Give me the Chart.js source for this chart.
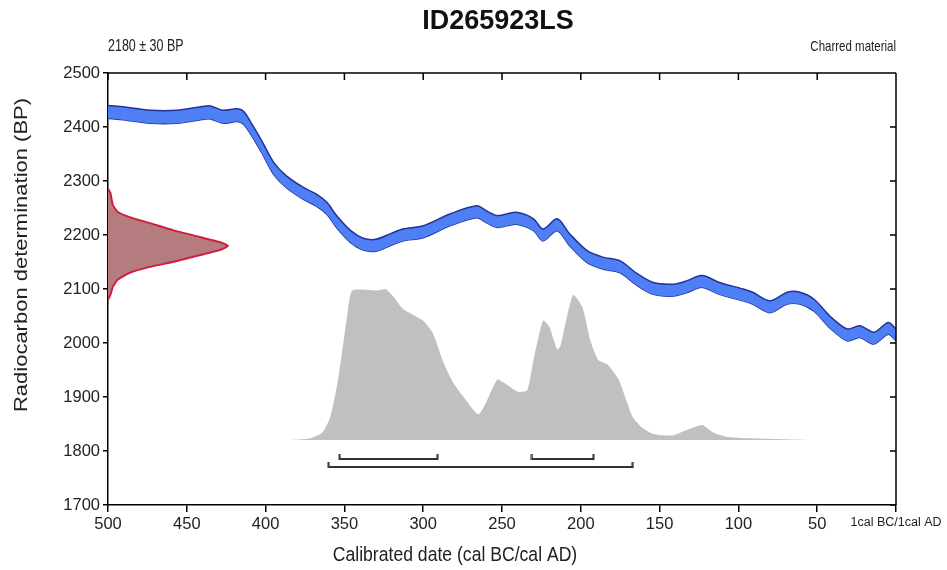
<!DOCTYPE html>
<html><head><meta charset="utf-8">
<script src="https://cdn.jsdelivr.net/npm/chart.js@4/dist/chart.umd.min.js"></script>
<style>html,body{margin:0;padding:0;background:#fff}#wrap{width:947px;height:570px}</style>
</head><body><div id="wrap"><canvas id="c" width="947" height="570"></canvas></div>
<script>
// ---- texts ----
const titleText = 'ID265923LS';
const measurementText = '2180 ± 30 BP';
const materialText = 'Charred material';
const xAxisTitle = 'Calibrated date (cal BC/cal AD)';
const yAxisTitle = 'Radiocarbon determination (BP)';

// ---- ticks ----
const xTickValues = [500, 450, 400, 350, 300, 250, 200, 150, 100, 50, 0];
const xTickLabels = ['500', '450', '400', '350', '300', '250', '200', '150', '100', '50', '1cal BC/1cal AD'];
const yTickValues = [1700, 1800, 1900, 2000, 2100, 2200, 2300, 2400, 2500];
const yTickLabels = ['1700', '1800', '1900', '2000', '2100', '2200', '2300', '2400', '2500'];

// ---- calibration curve (years cal BC, BP, 1-sigma) ----
const curveYears = [500, 492, 473, 456, 442, 435, 427, 418, 414, 408, 402, 395, 387, 376, 368, 361, 355, 346, 338, 330, 321, 313, 300, 283, 266, 260, 253, 241, 230, 224, 215, 207, 196, 186, 175, 165, 154, 141, 133, 123, 112, 97, 91, 80, 69, 61, 52, 42, 31, 23, 14, 5, 0];
const curveBP    = [2428, 2426, 2419, 2419, 2425, 2427, 2419, 2422, 2417, 2391, 2361, 2324, 2299, 2277, 2265, 2249, 2225, 2197, 2183, 2181, 2191, 2200, 2206, 2228, 2243, 2234, 2225, 2231, 2219, 2200, 2219, 2191, 2160, 2148, 2141, 2119, 2101, 2098, 2104, 2114, 2101, 2089, 2083, 2067, 2083, 2083, 2070, 2039, 2015, 2021, 2009, 2027, 2015];
const curveErr   = [12, 12, 12, 12, 12, 12, 12, 12, 12, 11, 11, 11, 11, 11, 11, 11, 11, 11, 11, 11, 11, 11, 11, 11, 11, 11, 11, 11, 11, 11, 11, 11, 11, 11, 11, 11, 11, 11, 11, 11, 11, 11, 11, 11, 11, 11, 11, 11, 11, 11, 11, 11, 11];

// ---- measured radiocarbon date distribution (BP, relative probability) ----
const measBP   = [2286, 2278, 2256, 2243, 2233, 2222, 2209, 2196, 2187, 2180, 2172, 2163, 2150, 2141, 2130, 2117, 2104, 2089, 2080];
const measProb = [0, 0.02, 0.04, 0.08, 0.18, 0.35, 0.54, 0.77, 0.93, 1, 0.93, 0.77, 0.54, 0.35, 0.18, 0.08, 0.04, 0.02, 0];

// ---- calibrated date distribution (years cal BC, relative probability) ----
const calYears = [385, 372, 364, 359, 354, 348, 345, 329, 324, 319, 313, 300, 294, 287, 281, 274, 265, 260, 253, 249, 240, 234, 230, 224, 220, 215, 213, 205, 199, 194, 189, 183, 176, 171, 167, 162, 154, 142, 132, 123, 116, 107, 88, 53];
const calProb  = [0, 0.01, 0.05, 0.15, 0.40, 0.84, 0.99, 0.99, 1.0, 0.95, 0.87, 0.79, 0.71, 0.51, 0.38, 0.28, 0.17, 0.25, 0.40, 0.38, 0.32, 0.33, 0.53, 0.79, 0.75, 0.60, 0.62, 0.96, 0.88, 0.66, 0.53, 0.50, 0.40, 0.26, 0.15, 0.09, 0.04, 0.03, 0.07, 0.10, 0.05, 0.02, 0.01, 0];

// ---- highest probability ranges (cal BC) ----
const range68 = [[353, 291], [231, 192]];
const range95 = [[360, 167]];

// ================= build =================
const FONT = '"Liberation Sans", Arial, Helvetica, sans-serif';
function hasFont(name) {
  const c = document.createElement('canvas').getContext('2d');
  const s = 'abcdefghijLWM0123456789';
  c.font = '40px monospace';
  const w1 = c.measureText(s).width;
  c.font = '40px "' + name + '", monospace';
  return Math.abs(c.measureText(s).width - w1) > 0.5;
}
const NARROW_OK = hasFont('Liberation Sans Narrow');
const TICK_FONT = NARROW_OK ? {family: '"Liberation Sans Narrow", ' + FONT, size: 20} : {family: FONT, size: 16.5};
const SMALL_TICK_FONT = NARROW_OK ? {family: '"Liberation Sans Narrow", ' + FONT, size: 15} : {family: FONT, size: 12.5};

// end-cap marker for the range bars (a short tick pointing up)
const capMarker = (() => {
  const c = document.createElement('canvas');
  c.width = 3; c.height = 10;
  const g = c.getContext('2d');
  g.fillStyle = '#333';
  g.fillRect(0.5, 0, 2, 6);
  return c;
})();

const upper = curveYears.map((yr, i) => ({x: yr, y: curveBP[i] + curveErr[i]}));
const lower = curveYears.map((yr, i) => ({x: yr, y: curveBP[i] - curveErr[i]}));
const meas = measBP.map((bp, i) => ({x: measProb[i], y: bp}));
const cal = calYears.map((yr, i) => ({x: yr, y: calProb[i]}));

const rangeDataset = (r, level) => ({
  type: 'line',
  data: [{x: r[0], y: level}, {x: r[1], y: level}],
  xAxisID: 'x', yAxisID: 'yProb',
  borderColor: '#333', borderWidth: 2,
  pointStyle: capMarker, pointRadius: 4,
  fill: false, order: 5
});

const datasets = [
  { // calibration curve upper edge
    data: upper, xAxisID: 'x', yAxisID: 'y',
    borderColor: '#22339a', borderWidth: 1.5, pointRadius: 0, tension: 0.3,
    backgroundColor: 'rgb(78,127,245)', fill: '+1', order: 1
  },
  { // lower edge
    data: lower, xAxisID: 'x', yAxisID: 'y',
    borderColor: '#22339a', borderWidth: 1.5, pointRadius: 0, tension: 0.3,
    fill: false, order: 1
  },
  { // measured date
    data: meas, xAxisID: 'xRed', yAxisID: 'y',
    borderColor: 'rgb(205,30,60)', borderWidth: 2, pointRadius: 0, tension: 0.15,
    backgroundColor: 'rgb(180,124,126)', fill: 'shape', order: 2
  },
  { // calibrated distribution
    data: cal, xAxisID: 'x', yAxisID: 'yProb',
    borderWidth: 0, borderColor: 'rgba(0,0,0,0)', pointRadius: 0, tension: 0.2,
    backgroundColor: 'rgb(192,192,192)', fill: 'origin', order: 6
  },
  ...range68.map(r => rangeDataset(r, -0.126)),
  ...range95.map(r => rangeDataset(r, -0.179))
];

function stretchedText(ctx, text, x, y, size, align, sx, sy, rot) {
  ctx.save();
  ctx.translate(x, y);
  if (rot) ctx.rotate(rot);
  ctx.scale(sx, sy);
  ctx.font = size + 'px ' + FONT;
  ctx.textAlign = align;
  ctx.textBaseline = 'middle';
  ctx.fillText(text, 0, 0);
  ctx.restore();
}

const framePlugin = {
  id: 'frame',
  afterDatasetsDraw(chart) {
    const {ctx, chartArea: a, scales} = chart;
    const x = scales.x, y = scales.y;
    ctx.save();
    ctx.strokeStyle = '#000';
    ctx.lineWidth = 1.5;
    ctx.beginPath();
    ctx.moveTo(a.left, a.top); ctx.lineTo(a.right, a.top);
    ctx.moveTo(a.right, a.top); ctx.lineTo(a.right, a.bottom);
    xTickValues.forEach(v => { const px = x.getPixelForValue(v); ctx.moveTo(px, a.top); ctx.lineTo(px, a.top + 7); });
    yTickValues.forEach(v => { const py = y.getPixelForValue(v); ctx.moveTo(a.right, py); ctx.lineTo(a.right - 6, py); });
    ctx.stroke();
    ctx.fillStyle = '#111';
    ctx.textBaseline = 'middle';
    ctx.font = 'bold 27px ' + FONT;
    ctx.textAlign = 'center';
    ctx.fillText(titleText, 498, 22);
    ctx.fillStyle = '#222';
    stretchedText(ctx, measurementText, a.left, 47, 12.5, 'left', 1, 1.3, 0);
    stretchedText(ctx, materialText, a.right, 47, 11.5, 'right', 1, 1.3, 0);
    stretchedText(ctx, xAxisTitle, 455, 555, 17.6, 'center', 1, 1.15, 0);
    stretchedText(ctx, yAxisTitle, 22, 255, 17.6, 'center', 1.25, 1, -Math.PI / 2);
    ctx.restore();
  }
};

new Chart(document.getElementById('c'), {
  type: 'line',
  data: {datasets},
  options: {
    responsive: false, animation: false, devicePixelRatio: 1,
    layout: {padding: {top: 73, right: 51, bottom: 0, left: 0}},
    plugins: {legend: {display: false}, tooltip: {enabled: false}, title: {display: false}},
    scales: {
      x: {
        type: 'linear', position: 'bottom', reverse: true, min: 0, max: 500,
        afterFit: s => { s.height = 65; },
        afterBuildTicks: s => { s.ticks = xTickValues.map(v => ({value: v})); },
        ticks: {
          autoSkip: false, maxRotation: 0, padding: 3, color: '#222',
          font: ctx => (ctx.tick && ctx.tick.value === 0) ? SMALL_TICK_FONT : TICK_FONT,
          callback: v => xTickLabels[xTickValues.indexOf(v)]
        },
        grid: {drawOnChartArea: false, drawTicks: true, tickLength: 7, color: '#000', lineWidth: 1.5},
        border: {display: true, color: '#000', width: 1.5},
        title: {display: false}
      },
      xRed: {type: 'linear', display: false, min: 0, max: 6.567},
      y: {
        type: 'linear', position: 'left', min: 1700, max: 2500,
        afterFit: s => { s.width = 108; },
        afterBuildTicks: s => { s.ticks = yTickValues.map(v => ({value: v})); },
        ticks: {padding: 3, color: '#222', font: TICK_FONT, callback: v => yTickLabels[yTickValues.indexOf(v)]},
        grid: {drawOnChartArea: false, drawTicks: true, tickLength: 5, color: '#000', lineWidth: 1.5},
        border: {display: true, color: '#000', width: 1.5},
        title: {display: false}
      },
      yProb: {type: 'linear', display: false, min: -0.4305, max: 2.4305}
    }
  },
  plugins: [framePlugin]
});
</script>
</body></html>
